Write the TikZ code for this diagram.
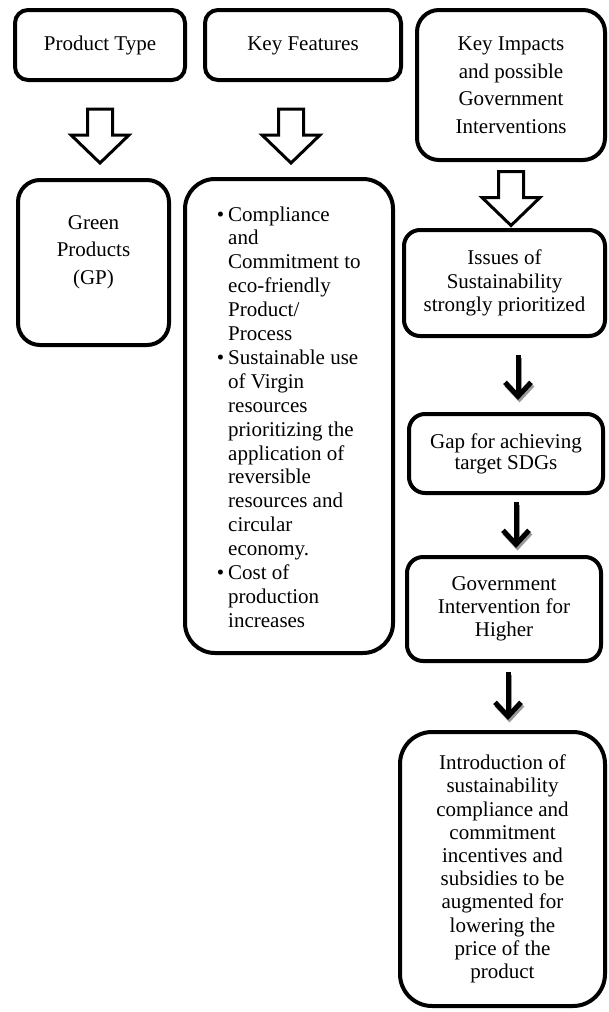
\documentclass[tikz,border=0pt]{standalone}
\usepackage{fontspec}
\setmainfont{Liberation Serif}
\usetikzlibrary{arrows.meta,calc}

\begin{document}
\begin{tikzpicture}[x=1pt,y=-1pt,
  box/.style={draw, line width=4pt, rounded corners=#1, align=center,
              inner sep=0pt, fill=white},
  box/.default=13pt,
  txt/.style={font=\fontsize{21pt}{#1}\selectfont},
  txt/.default=23.5pt,
  flowarrow/.style={line width=5pt,
     -{Straight Barb[length=14pt,width=26pt,line width=5pt]}},
  blockarrow/.pic={
    \draw[line width=3pt, line join=miter, fill=white]
      (-12.5,0) -- (12.5,0) -- (12.5,26) -- (29,26) -- (0,54)
      -- (-29,26) -- (-12.5,26) -- cycle;}
]
\useasboundingbox[fill=white] (0,0) rectangle (608,1012);

% column headings
\node[box, txt, minimum width=170pt, minimum height=70pt,
      text height=14.5pt, text depth=4.5pt] (pt) at (100,45) {Product Type};
\node[box, txt, minimum width=196pt, minimum height=70pt,
      text height=14.5pt, text depth=4.5pt] (kf) at (303,45) {Key Features};
\node[box=22pt, txt=27.5pt, minimum width=188pt, minimum height=150pt] (ki) at (511,85)
  {Key Impacts\\and possible\\Government\\Interventions};

% hollow block arrows below the headings
\pic at ($(pt.south)+(0,27)$) {blockarrow};
\pic at ($(kf.south)+(-12,27)$) {blockarrow};
\pic at ($(ki.south)+(0,9.5)$) {blockarrow};

% product type column
\node[box=22pt, minimum width=151pt, minimum height=165pt] (gp) at (93.5,262.5) {};
\node[txt=27.5pt, align=center, inner sep=0pt, anchor=north] (gpt) at (93.5,215)
  {Green\\Products\\(GP)};

% key features column
\node[box=30pt, minimum width=208pt, minimum height=474pt] (kfb) at (289,416) {};
\node[txt=23.9pt, align=left, inner sep=0pt, anchor=west] (kft) at (228,417)
  {\llap{\textbullet\hspace{4pt}}Compliance\\
   and\\
   Commitment to\\
   eco-friendly\\
   Product/\\
   Process\\
   \llap{\textbullet\hspace{4pt}}Sustainable use\\
   of Virgin\\
   resources\\
   prioritizing the\\
   application of\\
   reversible\\
   resources and\\
   circular\\
   economy.\\
   \llap{\textbullet\hspace{4pt}}Cost of\\
   production\\
   increases};

% impacts and interventions column
\node[box=16pt, txt, minimum width=201pt, minimum height=106pt] (is) at (504.5,283)
  {Issues of\\Sustainability\\strongly prioritized};
\node[box=16pt, txt=21pt, minimum width=194pt, minimum height=79pt] (gap) at (506,453.5)
  {Gap for achieving\\target SDGs};
\node[box=16pt, txt=23pt, minimum width=194pt, minimum height=104pt] (gov) at (504,609)
  {Government\\Intervention for\\Higher};
\node[box=32pt, txt=23.2pt, minimum width=205pt, minimum height=274pt] (intro) at (502.5,869)
  {Introduction of\\sustainability\\compliance and\\commitment\\incentives and\\subsidies to be\\augmented for\\lowering the\\price of the\\product};

% flow arrows with their soft shadows
\begin{scope}[transform canvas={xshift=1.5pt,yshift=-2.5pt}]
  \draw[flowarrow, black!40] ($(is.south)+(13.5,17)$) -- ($(gap.north)+(12,-12)$);
  \draw[flowarrow, black!40] ($(gap.south)+(10,7)$) -- ($(gov.north)+(12,-7)$);
  \draw[flowarrow, black!40] ($(gov.south)+(4,9)$) -- ($(intro.north)+(5.5,-10)$);
\end{scope}
\draw[flowarrow] ($(is.south)+(13.5,17)$) -- ($(gap.north)+(12,-12)$);
\draw[flowarrow] ($(gap.south)+(10,7)$) -- ($(gov.north)+(12,-7)$);
\draw[flowarrow] ($(gov.south)+(4,9)$) -- ($(intro.north)+(5.5,-10)$);
\end{tikzpicture}
\end{document}
